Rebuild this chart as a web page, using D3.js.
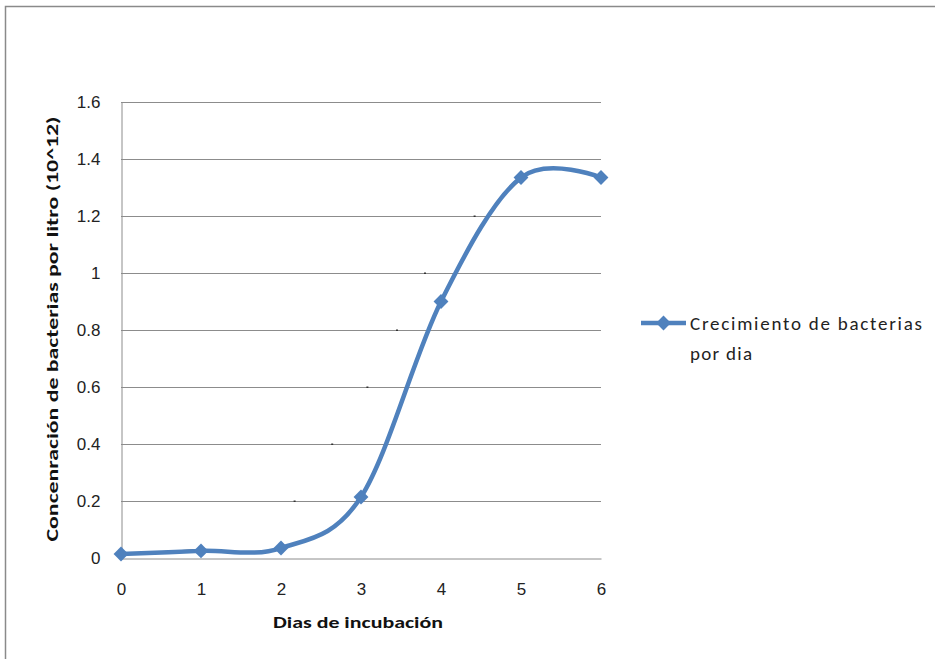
<!DOCTYPE html>
<html>
<head>
<meta charset="utf-8">
<script src="https://cdn.jsdelivr.net/npm/d3@7"></script>
<style>
  html, body { margin: 0; padding: 0; background: #fff; }
  svg { display: block; font-family: Carlito, Lato, "Open Sans", sans-serif; }
</style>
</head>
<body>
<svg id="chart" width="935" height="659"></svg>
<script>
// Days of incubation and bacterial concentration (10^12 per litre)
const days = [0, 1, 2, 3, 4, 5, 6];
const concentration = [0.014, 0.025, 0.035, 0.214, 0.90, 1.335, 1.335];
const yTicks = [0, 0.2, 0.4, 0.6, 0.8, 1, 1.2, 1.4, 1.6];
const xTicks = [0, 1, 2, 3, 4, 5, 6];
const seriesName = ["Crecimiento de bacterias", "por dia"];
const xTitle = "Dias  de incubación";
const yTitle = "Concenración  de  bacterias  por litro  (10^12)";

// thin dark trace fragments left under the series
const traceSegments = [
  [[0, 0.014], [1.05, 0.03]],
  [[4.7, 1.25], [5.0, 1.33]]
];
const traceDots = [[2.17, 0.2], [2.64, 0.4], [3.08, 0.6], [3.45, 0.8], [3.8, 1.0], [4.42, 1.2]];

const svg = d3.select("#chart");
const blue = "#4f81bd";
const grid = "#8c8c8c";

// outer frame
svg.append("path")
  .attr("d", "M5.5,659 V6.5 H935")
  .attr("fill", "none").attr("stroke", "#8a8a8a").attr("stroke-width", 1.5);

const x = d3.scaleLinear().domain([0, 6]).range([121, 601]);
const y = d3.scaleLinear().domain([0, 1.6]).range([558, 102]);

// horizontal gridlines
svg.append("g").selectAll("line").data(yTicks.filter(d => d > 0)).join("line")
  .attr("x1", x(0)).attr("x2", x(6))
  .attr("y1", d => Math.round(y(d)) + 0.5).attr("y2", d => Math.round(y(d)) + 0.5)
  .attr("stroke", grid).attr("stroke-width", 1);

// axes
const yAxis = svg.append("g").attr("transform", `translate(${x(0) + 0.5},0)`)
  .call(d3.axisLeft(y).tickValues(yTicks).tickSize(0).tickPadding(21)
    .tickFormat(d => d === 0 ? "0" : d3.format("~g")(d)));
const xAxis = svg.append("g").attr("transform", `translate(0,${y(0) + 0.5})`)
  .call(d3.axisBottom(x).tickValues(xTicks).tickSize(0).tickPadding(24).tickFormat(d3.format("d")));
[yAxis, xAxis].forEach(a => {
  a.select(".domain").attr("stroke", grid);
  a.selectAll("text").attr("font-size", 17).attr("fill", "#222");
});

// dark trace fragments
const line = d3.line().x(d => x(d[0])).y(d => y(d[1]));
svg.append("g").selectAll("path").data(traceSegments).join("path")
  .attr("d", line).attr("fill", "none").attr("stroke", "#222").attr("stroke-width", 1.3);
svg.append("g").selectAll("rect").data(traceDots).join("rect")
  .attr("x", d => x(d[0]) - 1).attr("y", d => y(d[1]) - 0.5)
  .attr("width", 2).attr("height", 1.5).attr("fill", "#333");

// smoothed series
const pts = days.map((d, i) => [d, concentration[i]]);
svg.append("path")
  .attr("d", d3.line().x(d => x(d[0])).y(d => y(d[1])).curve(d3.curveCardinal.tension(0))(pts))
  .attr("fill", "none").attr("stroke", blue).attr("stroke-width", 4.5).attr("stroke-linejoin", "round");

const diamond = d3.symbol().type(d3.symbolDiamond2).size(140);
svg.append("g").selectAll("path").data(pts).join("path")
  .attr("transform", d => `translate(${x(d[0])},${y(d[1])})`)
  .attr("d", diamond).attr("fill", blue);

// legend
const lg = svg.append("g").attr("transform", "translate(641,323)");
lg.append("line").attr("x1", 0).attr("x2", 45).attr("stroke", blue).attr("stroke-width", 4.5);
lg.append("path").attr("transform", "translate(22.5,0)").attr("d", diamond).attr("fill", blue);
const legendWidths = [232, 62];
lg.selectAll("text").data(seriesName).join("text")
  .attr("x", 49).attr("y", (d, i) => 7 + i * 30)
  .attr("font-size", 19).attr("fill", "#222")
  .attr("textLength", (d, i) => legendWidths[i]).attr("lengthAdjust", "spacing")
  .text(d => d);

// axis titles
svg.append("text").attr("x", 358).attr("y", 628).attr("text-anchor", "middle")
  .attr("font-size", 16).attr("font-weight", "bold").attr("fill", "#111")
  .attr("textLength", 170).attr("lengthAdjust", "spacingAndGlyphs").text(xTitle);
svg.append("text").attr("transform", "translate(58,329) rotate(-90)").attr("text-anchor", "middle")
  .attr("font-size", 16).attr("font-weight", "bold").attr("fill", "#111")
  .attr("textLength", 425).attr("lengthAdjust", "spacingAndGlyphs").text(yTitle);
</script>
</body>
</html>
